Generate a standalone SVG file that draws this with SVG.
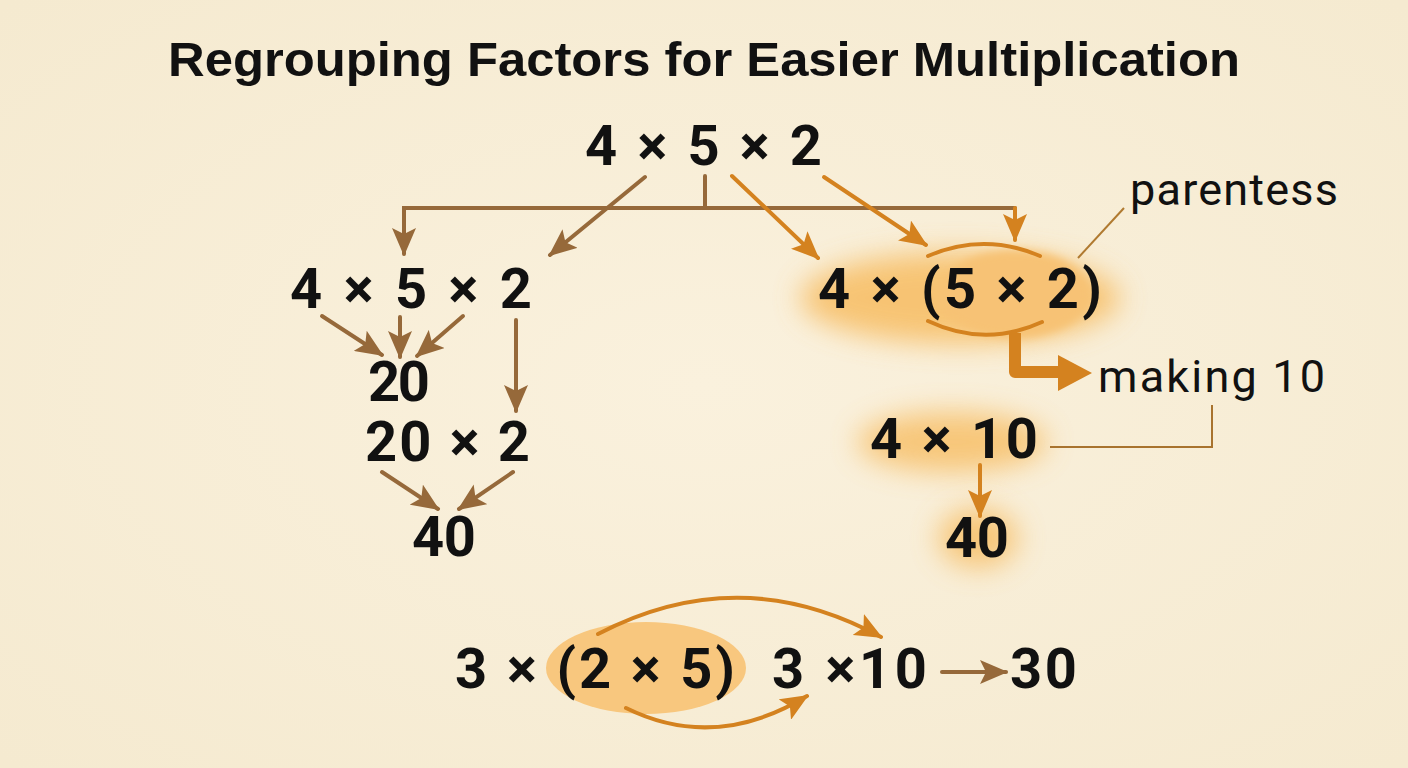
<svg xmlns="http://www.w3.org/2000/svg" width="1408" height="768" viewBox="0 0 1408 768">
<defs>
<style>
.t{font-family:Roboto,"Liberation Sans",sans-serif;font-weight:700;font-size:56px;fill:#111}
.l{font-family:Roboto,"Liberation Sans",sans-serif;font-weight:400;font-size:45px;fill:#111}
.b{fill:none;stroke:#96693A;stroke-width:4;stroke-linecap:round}
.o{fill:none;stroke:#D4821F;stroke-width:4;stroke-linecap:round}
</style>
<marker id="hb" viewBox="0 0 28 24" refX="26" refY="12" markerWidth="28" markerHeight="24" markerUnits="userSpaceOnUse" orient="auto"><path d="M0,0 L28,12 L0,24 L6,12 z" fill="#96693A"/></marker>
<marker id="ho" viewBox="0 0 28 24" refX="26" refY="12" markerWidth="28" markerHeight="24" markerUnits="userSpaceOnUse" orient="auto"><path d="M0,0 L28,12 L0,24 L6,12 z" fill="#D4821F"/></marker>
<filter id="blur" x="-50%" y="-50%" width="200%" height="200%"><feGaussianBlur stdDeviation="14"/></filter>
<filter id="blur2" x="-50%" y="-50%" width="200%" height="200%"><feGaussianBlur stdDeviation="4"/></filter>
<radialGradient id="bg" cx="50%" cy="50%" r="70%"><stop offset="0" stop-color="#FAF1DD"/><stop offset="1" stop-color="#F5EAD0"/></radialGradient>
</defs>
<rect width="1408" height="768" fill="url(#bg)"/>
<text x="168" y="76" font-family="'Liberation Sans',Arial,sans-serif" font-weight="700" font-size="49" fill="#111" textLength="1072" lengthAdjust="spacingAndGlyphs">Regrouping Factors for Easier Multiplication</text>

<g id="glows">
<ellipse cx="960" cy="298" rx="160" ry="46" fill="#F7B95A" opacity="0.8" filter="url(#blur)"/>
<ellipse cx="1015" cy="294" rx="76" ry="44" fill="#F7C274" filter="url(#blur2)"/>
<ellipse cx="952" cy="442" rx="95" ry="30" fill="#F7B95A" opacity="0.75" filter="url(#blur)"/>
<ellipse cx="978" cy="538" rx="40" ry="30" fill="#F7B95A" opacity="0.75" filter="url(#blur)"/>
<ellipse cx="646" cy="668" rx="100" ry="46" fill="#F8C77E"/>
</g>

<g id="connectors">
<path class="b" d="M705,176 V208"/>
<path class="b" d="M705,208 H404 V254" marker-end="url(#hb)"/>
<path class="b" d="M705,208 H1015" stroke="#A8732E"/>
<path class="o" d="M1015,208 V240" marker-end="url(#ho)"/>
<line class="b" x1="645" y1="177" x2="550" y2="255" marker-end="url(#hb)"/>
<line class="o" x1="732" y1="176" x2="818" y2="258" marker-end="url(#ho)"/>
<line class="o" x1="824" y1="177" x2="926" y2="245" marker-end="url(#ho)"/>
<line class="b" x1="322" y1="316" x2="382" y2="355" marker-end="url(#hb)"/>
<line class="b" x1="400" y1="317" x2="400" y2="357" marker-end="url(#hb)"/>
<line class="b" x1="463" y1="316" x2="417" y2="356" marker-end="url(#hb)"/>
<line class="b" x1="516" y1="320" x2="516" y2="411" marker-end="url(#hb)"/>
<line class="b" x1="382" y1="472" x2="438" y2="509" marker-end="url(#hb)"/>
<line class="b" x1="513" y1="472" x2="459" y2="509" marker-end="url(#hb)"/>
<path class="o" d="M928,256 Q984,232 1040,256"/>
<path class="o" d="M928,321 Q985,348 1042,322"/>
<line x1="1078" y1="258" x2="1124" y2="208" stroke="#B07A30" stroke-width="2"/>
<path d="M1015,333 V372 H1062" fill="none" stroke="#D4821F" stroke-width="12" stroke-linejoin="round"/>
<polygon points="1058,355 1092,373 1058,391" fill="#D4821F"/>
<polyline points="1212,405 1212,447 1050,447" fill="none" stroke="#A8732E" stroke-width="2"/>
<line class="o" x1="980" y1="465" x2="980" y2="516" marker-end="url(#ho)"/>
<path class="o" d="M598,634 Q740,560 881,637" marker-end="url(#ho)"/>
<path class="o" d="M626,708 Q715,752 807,696" marker-end="url(#ho)"/>
<line class="b" x1="942" y1="672" x2="1006" y2="672" marker-end="url(#hb)"/>
</g>

<g id="n-top"><text class="t" x="585" y="165" textLength="237">4 × 5 × 2</text></g>
<g id="n-left"><text class="t" x="290" y="308" textLength="242">4 × 5 × 2</text></g>
<g id="n-right"><text class="t" x="818" y="308" textLength="284">4 × (5 × 2)</text></g>
<g id="n-parentess"><text class="l" x="1130" y="205" textLength="208">parentess</text></g>
<g id="n-20"><text class="t" x="368" y="401" textLength="62">20</text></g>
<g id="n-20x2"><text class="t" x="365" y="461" textLength="165">20 × 2</text></g>
<g id="n-40l"><text class="t" x="412" y="556" textLength="64">40</text></g>
<g id="n-making"><text class="l" x="1098" y="392" textLength="227">making 10</text></g>
<g id="n-4x10"><text class="t" x="870" y="458" textLength="168">4 × 10</text></g>
<g id="n-40r"><text class="t" x="945" y="557" textLength="64">40</text></g>
<g id="n-bottom">
<text class="t" x="455" y="688" textLength="280">3 × (2 × 5)</text>
<text class="t" x="772" y="688" textLength="155">3 ×10</text>
<text class="t" x="1010" y="688" textLength="67">30</text>
</g>
</svg>
